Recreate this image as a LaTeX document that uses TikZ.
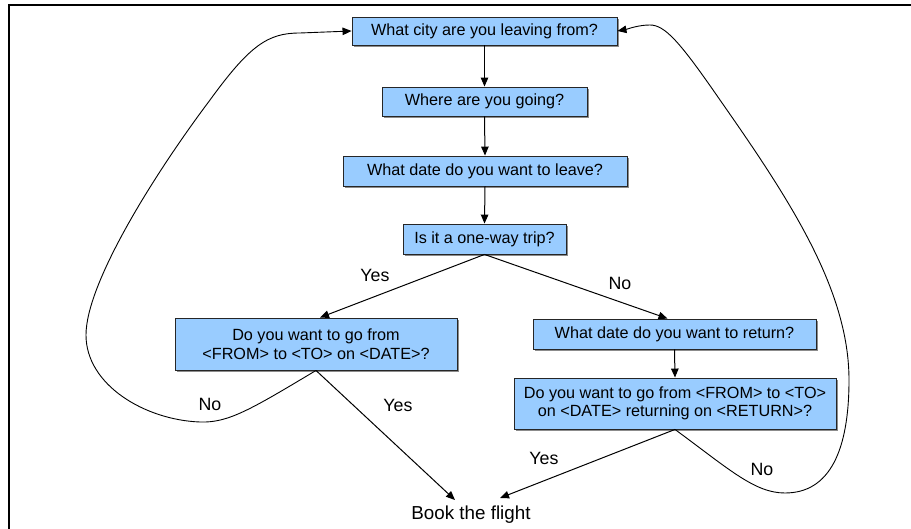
\documentclass[tikz,border=0pt]{standalone}
\usepackage{fontspec}
\setmainfont{Liberation Sans}
\usetikzlibrary{arrows.meta,shadows}
\begin{document}
\begin{tikzpicture}[x=1pt,y=-1pt,
  every node/.style={font=\fontsize{16.2}{18.5}\selectfont, inner sep=0pt},
  qbox/.style={draw=black!85, line width=0.9pt, fill=boxblue, align=center,
    drop shadow={shadow xshift=2pt, shadow yshift=-2.5pt, opacity=0.45, fill=black}},
  lbl/.style={font=\fontsize{17.8}{20}\selectfont},
  arr/.style={line width=1pt, -{Triangle[length=9pt,width=7.5pt]}},
  loop/.style={line width=0.9pt, -{Triangle[length=9pt,width=7.5pt]}}]
\definecolor{boxblue}{HTML}{99CCFF}
\useasboundingbox (0,0) rectangle (911,529);
\draw[line width=2pt] (8,5) -- (911,5);
\draw[line width=2pt] (9,5) -- (9,529);

\node[qbox, minimum width=265pt, minimum height=28pt] (b1) at (484.5,31) {What city are you leaving from?};
\node[qbox, minimum width=205pt, minimum height=29pt] (b2) at (484.5,101.5) {Where are you going?};
\node[qbox, minimum width=284pt, minimum height=30pt] (b3) at (485,171) {What date do you want to leave?};
\node[qbox, minimum width=163pt, minimum height=30pt] (b4) at (484.5,239) {Is it a one-way trip?};
\node[qbox, minimum width=282pt, minimum height=52pt] (b5) at (316,344) {Do you want to go from\\\textless FROM\textgreater{} to \textless TO\textgreater{} on \textless DATE\textgreater?};
\node[qbox, minimum width=283pt, minimum height=30pt] (b6) at (674.5,334) {What date do you want to return?};
\node[qbox, minimum width=322pt, minimum height=51pt] (b7) at (675,403.5) {Do you want to go from \textless FROM\textgreater{} to \textless TO\textgreater\\on \textless DATE\textgreater{} returning on \textless RETURN\textgreater?};
\node[font=\fontsize{18.8}{21}\selectfont] (book) at (471,515) {Book the flight};
\coordinate (bk1) at (455,500);
\coordinate (bk2) at (500,498);

\node[lbl] (l1) at (375,275) {Yes};
\node[lbl] (l2) at (620,283) {No};
\node[lbl] (l3) at (210,404) {No};
\node[lbl] (l4) at (398,405) {Yes};
\node[lbl] (l5) at (544,458) {Yes};
\node[lbl] (l6) at (762,469) {No};

\draw[arr] (b1.south) -- (b2.north);
\draw[arr] (b2.south) -- (b3.north);
\draw[arr] (b3.south) -- (b4.north);
\draw[arr] (b4.south) -- ([xshift=4pt]b5.north);
\draw[arr] (b4.south) -- ([xshift=-7pt]b6.north);
\draw[arr] (b6.south) -- (b7.north);
\draw[arr] (b5.south) -- (bk1);
\draw[arr] (b7.south) -- (bk2);

\draw[loop] (b5.south) .. controls (250,410) and (228,423) .. (200,422)
  .. controls (145,420) and (86,385) .. (86,335)
  .. controls (86,285) and (150,180) .. (210,100)
  .. controls (250,45) and (268,33) .. (300,33)
  -- (b1.west);
\draw[loop] (b7.south) .. controls (730,470) and (755,493) .. (785,493)
  .. controls (830,493) and (849,450) .. (849,380)
  .. controls (849,290) and (790,200) .. (720,100)
  .. controls (680,42) and (665,25) .. (650,25)
  .. controls (638,25) and (628,29) .. (b1.east);
\end{tikzpicture}
\end{document}
